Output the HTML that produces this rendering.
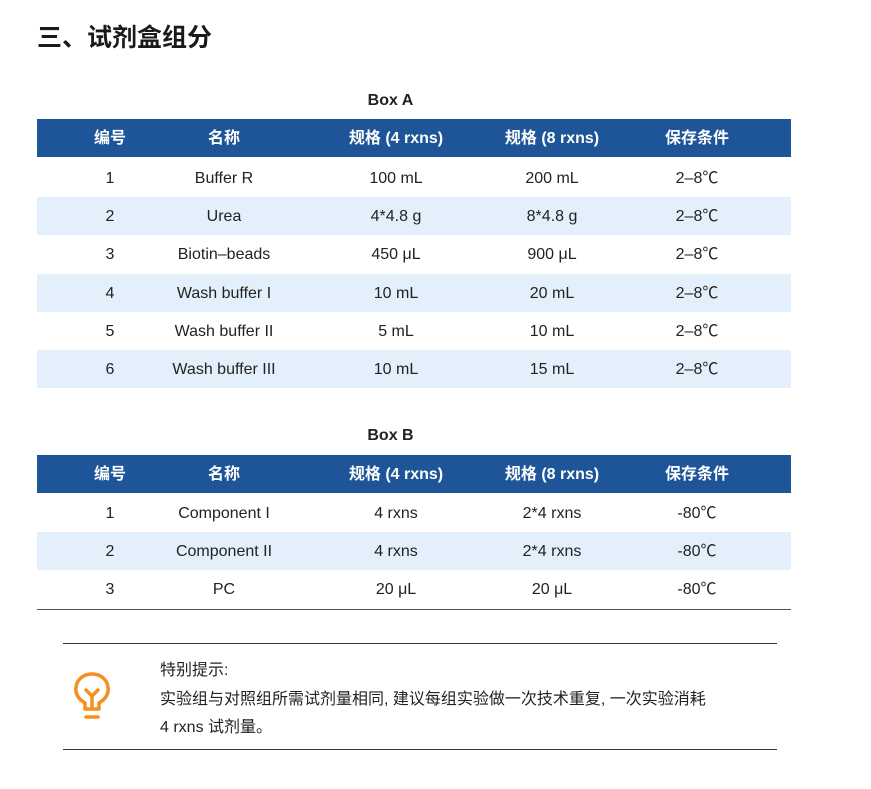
<!DOCTYPE html>
<html><head><meta charset="utf-8"><style>
body{margin:0;width:871px;height:789px;background:#fff;position:relative;overflow:hidden;font-family:"Liberation Sans","Noto Sans CJK SC",sans-serif;color:#222}
.t{position:absolute;left:37px;top:18px;font-size:25px;font-weight:bold;color:#1a1a1a;font-family:"Liberation Sans","Noto Sans CJK SC",sans-serif}
.cap{position:absolute;width:100%;text-align:center;font-weight:bold;font-size:16px;left:-45px}
.row{position:absolute;left:37px;width:754px;height:38px;font-size:16px}
.row span{position:absolute;top:1px;line-height:38px;text-align:center;transform:translateX(-50%);white-space:nowrap}
.h{background:#1d5598;color:#fff;font-weight:bold}
.b{background:#e3f0fb}
.c1{left:73px}.c2{left:187px}.c3{left:359px}.c4{left:515px}.c5{left:660px}
.line{position:absolute;height:1px;background:#333}
.note{position:absolute;left:160px;font-size:16px;color:#222}
</style></head><body>
<div class="t">三、试剂盒组分</div>
<div class="cap" style="top:92px">Box A</div>
<div class="row h" style="top:119px"><span class="c1">编号</span><span class="c2">名称</span><span class="c3">规格 (4 rxns)</span><span class="c4">规格 (8 rxns)</span><span class="c5">保存条件</span></div>
<div class="row" style="top:159px"><span class="c1">1</span><span class="c2">Buffer R</span><span class="c3">100 mL</span><span class="c4">200 mL</span><span class="c5">2–8℃</span></div>
<div class="row b" style="top:197px"><span class="c1">2</span><span class="c2">Urea</span><span class="c3">4*4.8 g</span><span class="c4">8*4.8 g</span><span class="c5">2–8℃</span></div>
<div class="row" style="top:235px"><span class="c1">3</span><span class="c2">Biotin–beads</span><span class="c3">450 μL</span><span class="c4">900 μL</span><span class="c5">2–8℃</span></div>
<div class="row b" style="top:274px"><span class="c1">4</span><span class="c2">Wash buffer I</span><span class="c3">10 mL</span><span class="c4">20 mL</span><span class="c5">2–8℃</span></div>
<div class="row" style="top:312px"><span class="c1">5</span><span class="c2">Wash buffer II</span><span class="c3">5 mL</span><span class="c4">10 mL</span><span class="c5">2–8℃</span></div>
<div class="row b" style="top:350px"><span class="c1">6</span><span class="c2">Wash buffer III</span><span class="c3">10 mL</span><span class="c4">15 mL</span><span class="c5">2–8℃</span></div>

<div class="cap" style="top:427px">Box B</div>
<div class="row h" style="top:455px"><span class="c1">编号</span><span class="c2">名称</span><span class="c3">规格 (4 rxns)</span><span class="c4">规格 (8 rxns)</span><span class="c5">保存条件</span></div>
<div class="row" style="top:494px"><span class="c1">1</span><span class="c2">Component I</span><span class="c3">4 rxns</span><span class="c4">2*4 rxns</span><span class="c5">-80℃</span></div>
<div class="row b" style="top:532px"><span class="c1">2</span><span class="c2">Component II</span><span class="c3">4 rxns</span><span class="c4">2*4 rxns</span><span class="c5">-80℃</span></div>
<div class="row" style="top:570px"><span class="c1">3</span><span class="c2">PC</span><span class="c3">20 μL</span><span class="c4">20 μL</span><span class="c5">-80℃</span></div>
<div class="line" style="left:37px;width:754px;top:609px;background:#555"></div>

<div class="line" style="left:63px;width:714px;top:643px"></div>
<div class="line" style="left:63px;width:714px;top:749px"></div>
<svg style="position:absolute;left:72px;top:672px" width="42" height="50" viewBox="0 0 42 50">
<g fill="none" stroke="#f5901e" stroke-width="3.5" stroke-linecap="round" stroke-linejoin="round">
<path d="M13 37 L13 31 C6 27 3 21 4 15 C5 7 12 2 20 2 C28 2 35 7 36 15 C37 21 34 27 27 31 L27 37 Z"/>
<path d="M14 18 L20 24 L26 18 M20 24 L20 36"/>
<path d="M14 45 L26 45"/>
</g></svg>
<div class="note" style="top:656px">特别提示:</div>
<div class="note" style="top:685px">实验组与对照组所需试剂量相同, 建议每组实验做一次技术重复, 一次实验消耗</div>
<div class="note" style="top:713px">4 rxns 试剂量。</div>
</body></html>
